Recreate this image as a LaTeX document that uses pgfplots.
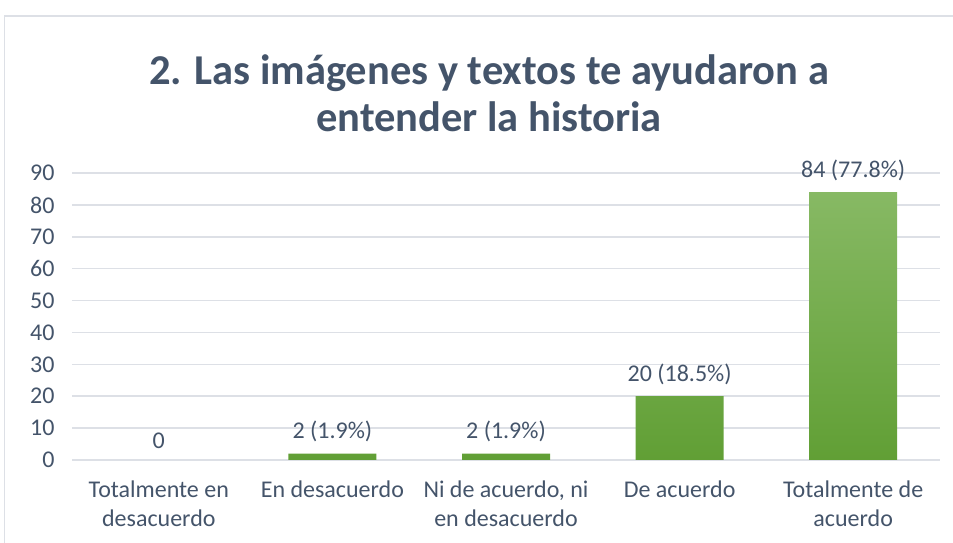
\documentclass[border=0pt]{standalone}
\usepackage{pgfplots}
\pgfplotsset{compat=1.18}
\usepackage{fontspec}
\setmainfont{Carlito}
\definecolor{txt}{HTML}{44546A}
\definecolor{gridc}{HTML}{DDE0E6}
\definecolor{barTop}{HTML}{87B964}
\definecolor{barMid}{HTML}{70AD47}
\definecolor{barBot}{HTML}{619F35}

\begin{document}
\begin{tikzpicture}[x=1pt,y=1pt]
\useasboundingbox (0,0) rectangle (953,543);
% chart area border (left and top are visible in the crop)
\draw[gridc, line width=1.5pt] (4.5,0) -- (4.5,527) -- (953,527);
% title
\node[font=\fontsize{42.5}{47}\selectfont\bfseries, text=txt, align=center]
  at (489,450) {2. Las imágenes y textos te ayudaron a\\entender la historia};
\begin{axis}[
    at={(72pt,83pt)}, anchor=south west,
    width=868pt, height=287pt, scale only axis,
    xmin=-0.5, xmax=4.5, ymin=0, ymax=90,
    ytick={0,10,...,90},
    xtick={0,1,2,3,4},
    xticklabels={Totalmente en\\desacuerdo, En desacuerdo, {Ni de acuerdo, ni\\en desacuerdo}, De acuerdo, Totalmente de\\acuerdo},
    /pgf/number format/assume math mode=true,
    axis line style={draw=none},
    tick style={draw=none},
    ymajorgrids=true,
    major grid style={gridc, line width=1.5pt},
    ticklabel style={font=\fontsize{24}{29}\selectfont, text=txt},
    xticklabel style={align=center, yshift=-13pt},
    yticklabel style={xshift=-14pt},
    ybar, bar width=88pt, bar shift=0pt,
    nodes near coords,
    point meta=explicit symbolic,
    nodes near coords style={font=\fontsize{24}{29}\selectfont, text=txt, anchor=south, yshift=8pt},
]
\addplot[draw=none, fill=none] coordinates {(0,0) [0]};
\addplot[draw=none, top color=barTop, middle color=barMid, bottom color=barBot]
  coordinates {(1,2) [2 (1.9\%)] (2,2) [2 (1.9\%)] (3,20) [20 (18.5\%)] (4,84) [84 (77.8\%)]};
\end{axis}
\end{tikzpicture}
\end{document}
